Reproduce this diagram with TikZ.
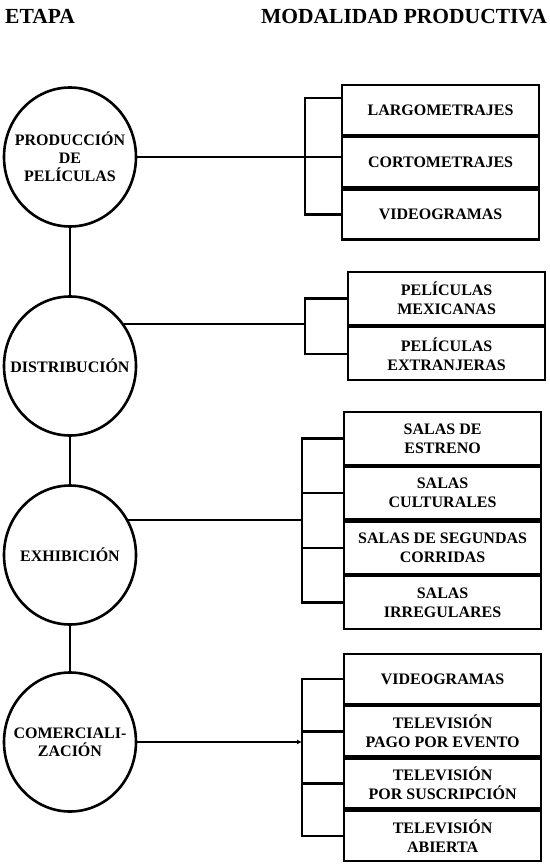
\documentclass[tikz,border=0pt]{standalone}
\usepackage{fontspec}
\setmainfont{Liberation Serif}
\usepackage{tikz}
\usetikzlibrary{arrows.meta}
\usetikzlibrary{positioning}
\usetikzlibrary{shapes.geometric}

\begin{document}
\begin{tikzpicture}[
    x=1pt, y=-1pt,
    >=Latex,
    % Estilo para las etapas (elipses, el texto va como etiqueta al centro)
    etapa/.style={
        draw, ellipse, line width=2.6pt,
        minimum width=132pt, minimum height=139pt,
        inner sep=0pt,
        label={[align=center, inner sep=0pt,
                font=\bfseries\fontsize{16}{18}\selectfont]center:#1}
    },
    % Estilo para las modalidades (cajas)
    modbox/.style={
        draw, rectangle, line width=2.2pt,
        minimum width=197pt, minimum height=#1,
        inner sep=0pt, align=center,
        font=\bfseries\fontsize{16}{19}\selectfont
    },
    modbox/.default=50pt,
    % Estilo para las lineas de union
    link/.style={line width=2.4pt},
    titulo/.style={inner sep=0pt, font=\bfseries\fontsize{21.5}{24}\selectfont}
]

    \useasboundingbox (0,0) rectangle (549,864);

    % --- 1. TITULOS ---
    \node[titulo, anchor=base west] (titetapa) at (5,24) {ETAPA};
    \node[titulo, anchor=base east] (titmodal) at (547,24) {MODALIDAD PRODUCTIVA};

    % --- 2. ETAPAS ---
    \node[etapa={PRODUCCIÓN\\DE\\PELÍCULAS}] (prod) at (70,157) {};
    \node[etapa={DISTRIBUCIÓN}] (dist) at (70,366) {};
    \node[etapa={EXHIBICIÓN}] (exhib) at (70,555) {};
    \node[etapa={COMERCIALI-\\ZACIÓN}] (comer) at (70,742) {};

    \draw[link] (prod) -- (dist);
    \draw[link] (dist) -- (exhib);
    \draw[link] (exhib) -- (comer);

    % --- 3. MODALIDADES ---
    % Produccion
    \node[modbox, anchor=north west] (largo) at (341,84) {LARGOMETRAJES};
    \node[modbox, below=0pt of largo] (corto) {CORTOMETRAJES};
    \node[modbox, below=0pt of corto] (video1) {VIDEOGRAMAS};

    % Distribucion
    \node[modbox=53pt, anchor=north west] (pmex) at (347,271) {PELÍCULAS\\MEXICANAS};
    \node[modbox=53pt, below=0pt of pmex] (pext) {PELÍCULAS\\EXTRANJERAS};

    % Exhibicion
    \node[modbox=52.5pt, anchor=north west] (estreno) at (343,411) {SALAS DE\\ESTRENO};
    \node[modbox=52.5pt, below=0pt of estreno] (cult) {SALAS\\CULTURALES};
    \node[modbox=52.5pt, below=0pt of cult] (segun) {SALAS DE SEGUNDAS\\CORRIDAS};
    \node[modbox=52.5pt, below=0pt of segun] (irreg) {SALAS\\IRREGULARES};

    % Comercializacion
    \node[modbox=50pt, anchor=north west] (video2) at (343,653) {VIDEOGRAMAS};
    \node[modbox=50pt, below=0pt of video2] (tvpago) {TELEVISIÓN\\PAGO POR EVENTO};
    \node[modbox=50pt, below=0pt of tvpago] (tvsus) {TELEVISIÓN\\POR SUSCRIPCIÓN};
    \node[modbox=50pt, below=0pt of tvsus] (tvabierta) {TELEVISIÓN\\ABIERTA};

    % --- 4. LLAVES ---
    \coordinate (sp1) at (305,0);
    \coordinate (sp2) at (305,0);
    \coordinate (sp3) at (302,0);
    \coordinate (sp4) at (302,0);

    \draw[link] ([yshift=12pt]largo.west) -- ([yshift=12pt]largo.west -| sp1) |- (video1.west);
    \draw[link] (prod.east) -- (prod.east -| corto.west);

    \draw[link] (pmex.west) -- (pmex.west -| sp2) |- (pext.west);
    \draw[link] (dist.38) -- (dist.38 -| sp2);

    \draw[link] (estreno.west) -- (estreno.west -| sp3) |- (irreg.west);
    \draw[link] (cult.west) -- (cult.west -| sp3);
    \draw[link] (segun.west) -- (segun.west -| sp3);
    \draw[link] (exhib.31) -- (exhib.31 -| sp3);

    \draw[link] (video2.west) -- (video2.west -| sp4) |- (tvabierta.west);
    \draw[link] (tvpago.west) -- (tvpago.west -| sp4);
    \draw[link] (tvsus.west) -- (tvsus.west -| sp4);
    \draw[link, -{Latex[length=5pt,width=5pt]}] (comer.east) -- (comer.east -| sp4);

\end{tikzpicture}
\end{document}
